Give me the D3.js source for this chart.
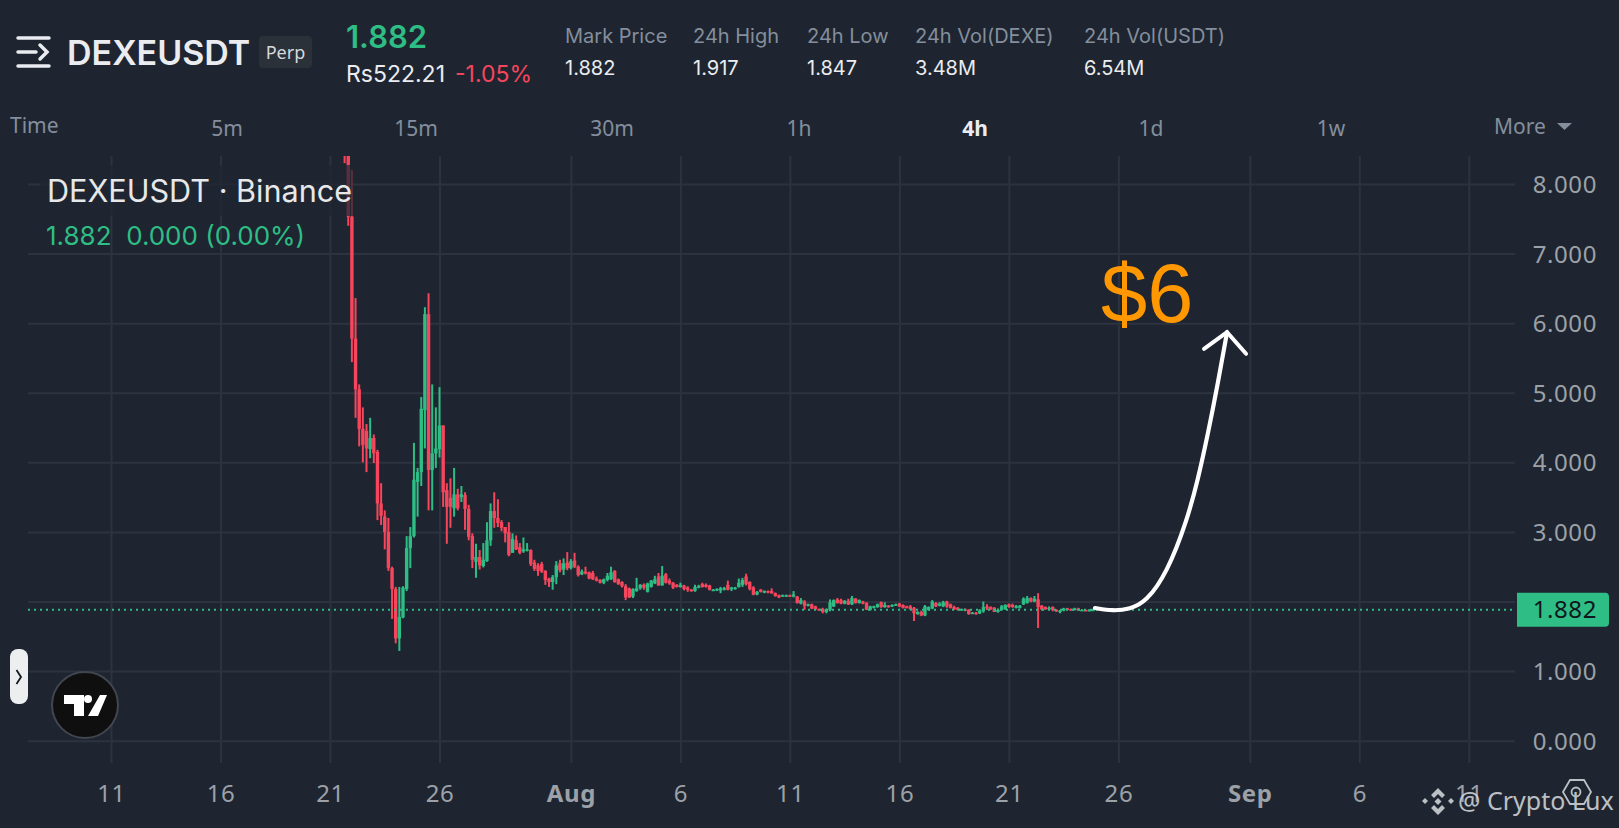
<!DOCTYPE html>
<html>
<head>
<meta charset="utf-8">
<title>DEXEUSDT</title>
<script src="https://cdn.jsdelivr.net/npm/d3@7"></script>
<style>
	html, body { margin: 0; padding: 0; background: #1e2530; overflow: hidden; }
	svg { display: block; }
	text { font-family: "Noto Sans", sans-serif; }
	.axis path { display: none; }
	.axis line { stroke: #2c333e; stroke-width: 2; }
	.axis text { fill: #9ca1a8; font-size: 24px; letter-spacing: .6px; }
	.head { font-family: Inter, sans-serif; }
</style>
</head>
<body>
<svg id="chart" width="1619" height="828"></svg>
<script>
// 4h candles, first one opens on Jul 21 16:00
var firstCandle = Date.UTC(2024, 6, 21, 16);
var opens = [
	8.5,8.6,7.53,5.78,5.05,4.48,4.45,4.19,4.35,4.15,3.41,3.22,3,2.48,2.18,1.47,1.77,2.18,2.77,2.94,
	3.72,3.86,4.75,6.13,3.89,4.13,4.19,4.53,3.6,3.49,3.34,3.54,3.5,3.53,3.33,2.94,2.57,2.64,2.51,2.58,
	2.88,3.3,3.2,3.14,3.07,3,2.7,2.88,2.78,2.72,2.73,2.74,2.56,2.52,2.54,2.44,2.33,2.28,2.35,2.55,
	2.46,2.56,2.48,2.59,2.5,2.39,2.43,2.42,2.41,2.33,2.31,2.27,2.31,2.32,2.44,2.32,2.28,2.22,2.19,2.07,
	2.15,2.19,2.24,2.14,2.21,2.26,2.36,2.23,2.39,2.3,2.27,2.24,2.21,2.23,2.2,2.17,2.15,2.2,2.25,2.24,
	2.23,2.16,2.16,2.16,2.17,2.24,2.18,2.18,2.21,2.24,2.36,2.28,2.2,2.1,2.17,2.13,2.15,2.15,2.12,2.09,
	2.07,2.08,2.09,2.07,2.07,1.97,2,1.94,1.96,1.93,1.89,1.89,1.85,1.88,1.93,2.03,2.02,1.97,2.01,1.96,
	2.04,1.98,2,1.98,1.88,1.91,1.92,1.99,1.92,1.94,1.93,1.95,1.97,1.95,1.93,1.93,1.91,1.82,1.85,1.8,
	1.88,1.9,1.98,1.94,1.93,2,1.96,1.92,1.91,1.88,1.89,1.88,1.82,1.84,1.83,1.86,1.93,1.92,1.91,1.85,
	1.88,1.89,1.96,1.95,1.91,1.91,1.96,1.98,2.05,2,2.03,1.94,1.92,1.89,1.92,1.88,1.85,1.87,1.9,1.89,
	1.88,1.9,1.87,1.88,1.865,1.875
];
var highs = [
	8.6,8.6,8.2,6.36,5.12,4.79,4.55,4.64,4.4,4.18,3.7,3.31,3.2,2.5,2.21,2.21,2.22,2.94,3.07,4.28,
	3.92,4.94,6.23,6.43,5.12,4.79,5.08,4.53,3.7,3.77,3.92,3.62,3.66,3.57,3.39,2.98,2.83,2.74,2.84,3.14,
	3.41,3.57,3.47,3.17,3.07,3.14,2.98,2.95,2.84,2.92,2.84,2.75,2.6,2.55,2.57,2.45,2.34,2.38,2.58,2.6,
	2.62,2.71,2.61,2.7,2.52,2.46,2.5,2.43,2.44,2.36,2.32,2.33,2.41,2.5,2.45,2.33,2.29,2.25,2.2,2.19,
	2.34,2.25,2.26,2.27,2.31,2.37,2.41,2.51,2.41,2.33,2.28,2.25,2.27,2.24,2.22,2.18,2.24,2.24,2.27,2.26,
	2.24,2.18,2.19,2.21,2.21,2.3,2.21,2.21,2.33,2.34,2.4,2.29,2.22,2.15,2.18,2.16,2.16,2.19,2.13,2.1,
	2.1,2.1,2.1,2.15,2.08,2.05,2.02,1.97,1.97,1.94,1.9,1.91,1.9,2.03,2.03,2.05,2.04,2.02,2.04,2.08,
	2.05,2.03,2.01,1.99,1.94,1.94,1.97,2,1.99,1.95,1.96,1.97,1.98,1.96,1.94,1.95,1.92,1.86,1.87,1.95,
	1.93,2.02,1.99,1.99,2.01,2.01,1.97,1.94,1.92,1.9,1.9,1.89,1.85,1.85,1.89,2,1.96,1.93,1.92,1.9,
	1.95,1.96,1.97,1.97,1.95,1.95,2.06,2.08,2.06,2.08,2.12,1.95,1.93,1.93,1.93,1.89,1.88,1.91,1.91,1.9,
	1.91,1.91,1.89,1.885,1.89,1.895
];
var lows = [
	8.3,7.4,5.44,4.64,4.23,4,3.86,4.06,3.99,3.17,3.1,2.75,2.44,1.75,1.4,1.29,1.76,2.15,2.48,2.92,
	3.22,3.66,4.2,3.31,3.31,3.92,4.07,3.36,2.83,3.06,3.22,3.31,3.43,3.03,2.88,2.48,2.34,2.46,2.49,2.57,
	2.8,3.06,3.07,3.01,2.85,2.65,2.7,2.74,2.68,2.7,2.72,2.51,2.44,2.37,2.41,2.24,2.21,2.17,2.25,2.42,
	2.38,2.45,2.46,2.48,2.36,2.38,2.39,2.32,2.31,2.29,2.26,2.25,2.29,2.31,2.27,2.24,2.2,2.02,2.05,2.05,
	2.14,2.17,2.17,2.13,2.2,2.25,2.23,2.23,2.26,2.24,2.18,2.2,2.2,2.16,2.14,2.14,2.14,2.19,2.2,2.2,
	2.16,2.15,2.15,2.12,2.16,2.16,2.15,2.17,2.2,2.21,2.23,2.16,2.09,2.09,2.13,2.12,2.12,2.11,2.07,2.05,
	2.07,2.07,2.07,2.06,1.97,1.96,1.88,1.93,1.89,1.88,1.87,1.83,1.83,1.86,1.92,1.97,1.96,1.96,1.95,1.95,
	1.97,1.97,1.96,1.88,1.87,1.9,1.91,1.91,1.91,1.91,1.92,1.94,1.92,1.9,1.9,1.88,1.72,1.81,1.79,1.79,
	1.87,1.89,1.92,1.93,1.92,1.91,1.9,1.88,1.87,1.87,1.86,1.81,1.82,1.81,1.82,1.84,1.88,1.88,1.85,1.84,
	1.87,1.88,1.91,1.91,1.9,1.9,1.95,1.97,1.99,1.99,1.62,1.87,1.88,1.88,1.86,1.85,1.83,1.86,1.88,1.87,
	1.87,1.87,1.87,1.86,1.86,1.87
];
var closes = [
	8.4,7.53,5.78,5.05,4.48,4.25,4.2,4.35,4.13,3.41,3.23,3,2.48,2.18,1.47,1.78,2.2,2.77,2.94,3.75,
	3.86,4.77,6.13,3.89,4.13,4.2,4.53,3.57,3.36,3.36,3.54,3.34,3.54,3.33,2.93,2.6,2.64,2.52,2.6,2.88,
	3.3,3.2,3.13,3.06,2.98,2.67,2.9,2.75,2.7,2.75,2.75,2.54,2.47,2.44,2.43,2.31,2.28,2.35,2.52,2.45,
	2.55,2.48,2.58,2.5,2.38,2.43,2.4,2.33,2.32,2.3,2.27,2.32,2.37,2.42,2.28,2.25,2.22,2.06,2.06,2.18,
	2.19,2.24,2.2,2.26,2.3,2.32,2.23,2.37,2.27,2.26,2.2,2.21,2.24,2.18,2.17,2.15,2.21,2.22,2.21,2.21,
	2.17,2.17,2.18,2.19,2.19,2.17,2.2,2.2,2.27,2.31,2.25,2.18,2.1,2.14,2.14,2.15,2.13,2.12,2.08,2.06,
	2.09,2.09,2.07,2.1,1.98,2.02,1.94,1.96,1.9,1.89,1.88,1.85,1.89,1.99,2.02,1.98,1.97,2.01,1.96,2.05,
	1.98,2.02,1.97,1.88,1.93,1.93,1.96,1.92,1.95,1.92,1.95,1.96,1.93,1.91,1.91,1.89,1.83,1.85,1.8,1.93,
	1.92,2,1.93,1.97,1.99,1.93,1.91,1.89,1.88,1.89,1.87,1.82,1.84,1.82,1.87,1.92,1.9,1.89,1.85,1.88,
	1.93,1.95,1.92,1.92,1.93,1.94,2.04,2.05,2,2.04,1.92,1.89,1.89,1.91,1.88,1.86,1.87,1.9,1.89,1.88,
	1.9,1.87,1.88,1.865,1.88,1.882
];

var lastPrice = 1.882;
var priceTicks = [0, 1, 2, 3, 4, 5, 6, 7, 8];
var timeTicks = [
	Date.UTC(2024,6,11), Date.UTC(2024,6,16), Date.UTC(2024,6,21), Date.UTC(2024,6,26), Date.UTC(2024,7,1),
	Date.UTC(2024,7,6), Date.UTC(2024,7,11), Date.UTC(2024,7,16), Date.UTC(2024,7,21), Date.UTC(2024,7,26),
	Date.UTC(2024,8,1), Date.UTC(2024,8,6), Date.UTC(2024,8,11)
];
var timeLabels = ['11','16','21','26','Aug','6','11','16','21','26','Sep','6','11'];
var intervals = ['5m','15m','30m','1h','4h','1d','1w'];
var intervalCenters = [227,416,612,799,975,1151,1331];
var statNames = ['Mark Price','24h High','24h Low','24h Vol(DEXE)','24h Vol(USDT)'];
var statValues = ['1.882','1.917','1.847','3.48M','6.54M'];
var statLefts = [565,693,807,915,1084];

// hand drawn arrow, in days after Jul 11 and price
var arrowDays = [44.93,45.75,46.53,47.26,48.22,49.13,49.63,50.09,50.55,50.96];
var arrowPrices = [1.907,1.863,1.892,1.993,2.41,3.16,3.75,4.41,5.15,5.87];
var arrowHeadDays = [49.91,50.96,51.83];
var arrowHeadPrices = [5.63,5.87,5.56];

var GREEN = '#2ebd85', RED = '#f6465d';
var svg = d3.select('#chart');

var x = d3.scaleUtc().domain([timeTicks[0], timeTicks[12]]).range([111, 1468.8]);
var y = d3.scaleLinear().domain([0, 8]).range([740.7, 184]);
var dayX = function(d){ return x(timeTicks[0] + d * 864e5); };

svg.append('defs').append('clipPath').attr('id', 'pane')
	.append('rect').attr('x', 28).attr('y', 156).attr('width', 1487).attr('height', 607);

// grid + axes
svg.append('g').attr('class', 'axis').attr('transform', 'translate(0,763)')
	.call(d3.axisBottom(x).tickValues(timeTicks).tickSize(-607).tickPadding(22)
		.tickFormat(function(d, i){ return timeLabels[i]; }))
	.selectAll('text')
	.attr('font-weight', function(d, i){ return isNaN(+timeLabels[i]) ? 700 : 400; });

// the 2.000 label is covered by the price tag, only its grid line shows
svg.append('g').attr('class', 'axis').attr('transform', 'translate(1515,0)')
	.call(d3.axisRight(y).tickValues(priceTicks).tickSize(-1487).tickPadding(82)
		.tickFormat(function(d){ return d === 2 ? '' : d3.format('.3f')(d); }))
	.selectAll('text').attr('text-anchor', 'end').attr('dy', '.36em');

// candles
var candle = svg.append('g').attr('clip-path', 'url(#pane)')
	.selectAll('g').data(opens).enter().append('g');
var cx = function(d, i){ return x(firstCandle + i * 4 * 36e5); };
var color = function(d, i){ return closes[i] >= opens[i] ? GREEN : RED; };
candle.append('line')
	.attr('x1', cx).attr('x2', cx)
	.attr('y1', function(d, i){ return y(highs[i]); })
	.attr('y2', function(d, i){ return y(lows[i]); })
	.attr('stroke', color).attr('stroke-width', 2);
candle.append('rect')
	.attr('x', function(d, i){ return cx(d, i) - 1.7; })
	.attr('width', 3.4)
	.attr('y', function(d, i){ return y(Math.max(opens[i], closes[i])); })
	.attr('height', function(d, i){ return Math.max(1.5, Math.abs(y(opens[i]) - y(closes[i]))); })
	.attr('fill', color);

// last price
svg.append('line')
	.attr('x1', 28).attr('x2', 1515).attr('y1', y(lastPrice)).attr('y2', y(lastPrice))
	.attr('stroke', GREEN).attr('stroke-width', 2).attr('stroke-dasharray', '2 4');
svg.append('path').attr('fill', GREEN)
	.attr('d', 'M1517 ' + (y(lastPrice) - 17) + 'h88a4 4 0 0 1 4 4v26a4 4 0 0 1 -4 4h-88z');
svg.append('text').attr('x', 1597).attr('y', y(lastPrice) + 8.5).attr('text-anchor', 'end')
	.attr('fill', '#10161c').attr('font-size', 24).attr('letter-spacing', .6).text(lastPrice.toFixed(3));

// legend, sits on a see through plate
svg.append('rect').attr('x', 40).attr('y', 165).attr('width', 313).attr('height', 51)
	.attr('fill', '#1e2530').attr('opacity', .72);
svg.append('text').attr('class', 'head').attr('x', 47).attr('y', 202).attr('fill', '#e6e8ea').attr('font-size', 30.6)
	.text('DEXEUSDT · Binance');
svg.append('text').attr('class', 'head').attr('x', 46).attr('y', 245).attr('fill', GREEN).attr('font-size', 26)
	.attr('xml:space', 'preserve').text('1.882  0.000 (0.00%)');

// header
svg.append('g').attr('fill', 'none').attr('stroke', '#eaecef').attr('stroke-width', 3.5).attr('stroke-linecap', 'round')
	.selectAll('path').data(['M18 38H49', 'M18 66H49', 'M18 52H36', 'M40 45L47 52L40 59'])
	.enter().append('path').attr('d', function(d){ return d; });
svg.append('text').attr('class', 'head').attr('x', 67).attr('y', 65).attr('fill', '#eaecef')
	.attr('font-size', 34).attr('font-weight', 600).text('DEXEUSDT');
svg.append('rect').attr('x', 259).attr('y', 36).attr('width', 53).attr('height', 32).attr('rx', 4).attr('fill', '#2b3139');
svg.append('text').attr('x', 285.5).attr('y', 59).attr('text-anchor', 'middle').attr('fill', '#d5d8dc')
	.attr('font-size', 18).text('Perp');
svg.append('text').attr('class', 'head').attr('x', 346).attr('y', 48).attr('fill', GREEN)
	.attr('font-size', 31).attr('font-weight', 600).text('1.882');
svg.append('text').attr('class', 'head').attr('x', 346).attr('y', 81.5).attr('fill', '#eaecef').attr('font-size', 23).text('Rs522.21');
svg.append('text').attr('class', 'head').attr('x', 455).attr('y', 81.5).attr('fill', RED).attr('font-size', 23).text('-1.05%');

var stat = svg.append('g').selectAll('g').data(statNames).enter().append('g')
	.attr('transform', function(d, i){ return 'translate(' + statLefts[i] + ',0)'; });
stat.append('text').attr('class', 'head').attr('y', 43).attr('fill', '#848e9c').attr('font-size', 20).text(function(d){ return d; });
stat.append('text').attr('class', 'head').attr('y', 75).attr('fill', '#eaecef').attr('font-size', 20).text(function(d, i){ return statValues[i]; });

// interval tabs
svg.append('text').attr('x', 10).attr('y', 133).attr('fill', '#848e9c').attr('font-size', 21).text('Time');
svg.append('g').selectAll('text').data(intervals).enter().append('text')
	.attr('x', function(d, i){ return intervalCenters[i]; }).attr('y', 136)
	.attr('text-anchor', 'middle').attr('font-size', 21)
	.attr('fill', function(d){ return d === '4h' ? '#eaecef' : '#848e9c'; })
	.attr('font-weight', function(d){ return d === '4h' ? 700 : 400; })
	.text(function(d){ return d; });
svg.append('text').attr('x', 1494).attr('y', 134).attr('fill', '#848e9c').attr('font-size', 21).text('More');
svg.append('path').attr('d', 'M1557 123H1572L1564.5 130Z').attr('fill', '#848e9c');

// arrow + target
var arrowLine = d3.line()
	.x(function(d){ return dayX(d[0]); })
	.y(function(d){ return y(d[1]); })
	.curve(d3.curveBasis);
svg.append('path').datum(d3.zip(arrowDays, arrowPrices)).attr('d', arrowLine)
	.attr('fill', 'none').attr('stroke', '#fff').attr('stroke-width', 4.2).attr('stroke-linecap', 'round');
svg.append('path').datum(d3.zip(arrowHeadDays, arrowHeadPrices)).attr('d', arrowLine.curve(d3.curveLinear))
	.attr('fill', 'none').attr('stroke', '#fff').attr('stroke-width', 4).attr('stroke-linecap', 'round');
svg.append('text').attr('x', 1101).attr('y', 322).attr('fill', '#ff9800').attr('font-size', 83)
	.style('font-family', '"Liberation Sans", sans-serif').text('$6');

// side handle
svg.append('rect').attr('x', 10).attr('y', 649).attr('width', 18).attr('height', 55).attr('rx', 8).attr('fill', '#eceef0');
svg.append('path').attr('d', 'M16.5 670L21 677L16.5 684').attr('fill', 'none').attr('stroke', '#15181d').attr('stroke-width', 1.8);

// tradingview badge
svg.append('circle').attr('cx', 85).attr('cy', 705).attr('r', 33).attr('fill', '#0f0f0f').attr('stroke', '#41464f').attr('stroke-width', 2);
svg.append('path').attr('fill', '#fff').attr('d', 'M64 695H84V716H74V704H64Z M100 695H107L98 716H88Z');
svg.append('circle').attr('cx', 88).attr('cy', 699).attr('r', 4).attr('fill', '#fff');

// watermark
var mark = svg.append('g').attr('opacity', .85);
mark.append('g').attr('fill', '#d8dadd').selectAll('path')
	.data(['M1438 788l7 7-3 3-4-4-4 4-3-3z', 'M1438 815l7-7-3-3-4 4-4-4-3 3z', 'M1425 798l3 3-3 3-3-3z', 'M1451 798l3 3-3 3-3-3z', 'M1438 798l3.5 3.5-3.5 3.5-3.5-3.5z'])
	.enter().append('path').attr('d', function(d){ return d; });
mark.append('text').attr('x', 1458).attr('y', 810).attr('fill', '#d8dadd').attr('font-size', 25).text('@ Crypto Lux');
mark.append('path').attr('d', 'M1563 792l7-12h14l7 12-7 12h-14z').attr('fill', 'none').attr('stroke', '#d8dadd').attr('stroke-width', 1.8);
mark.append('circle').attr('cx', 1576).attr('cy', 792).attr('r', 4.5).attr('fill', 'none').attr('stroke', '#d8dadd').attr('stroke-width', 1.8);
</script>
</body>
</html>
